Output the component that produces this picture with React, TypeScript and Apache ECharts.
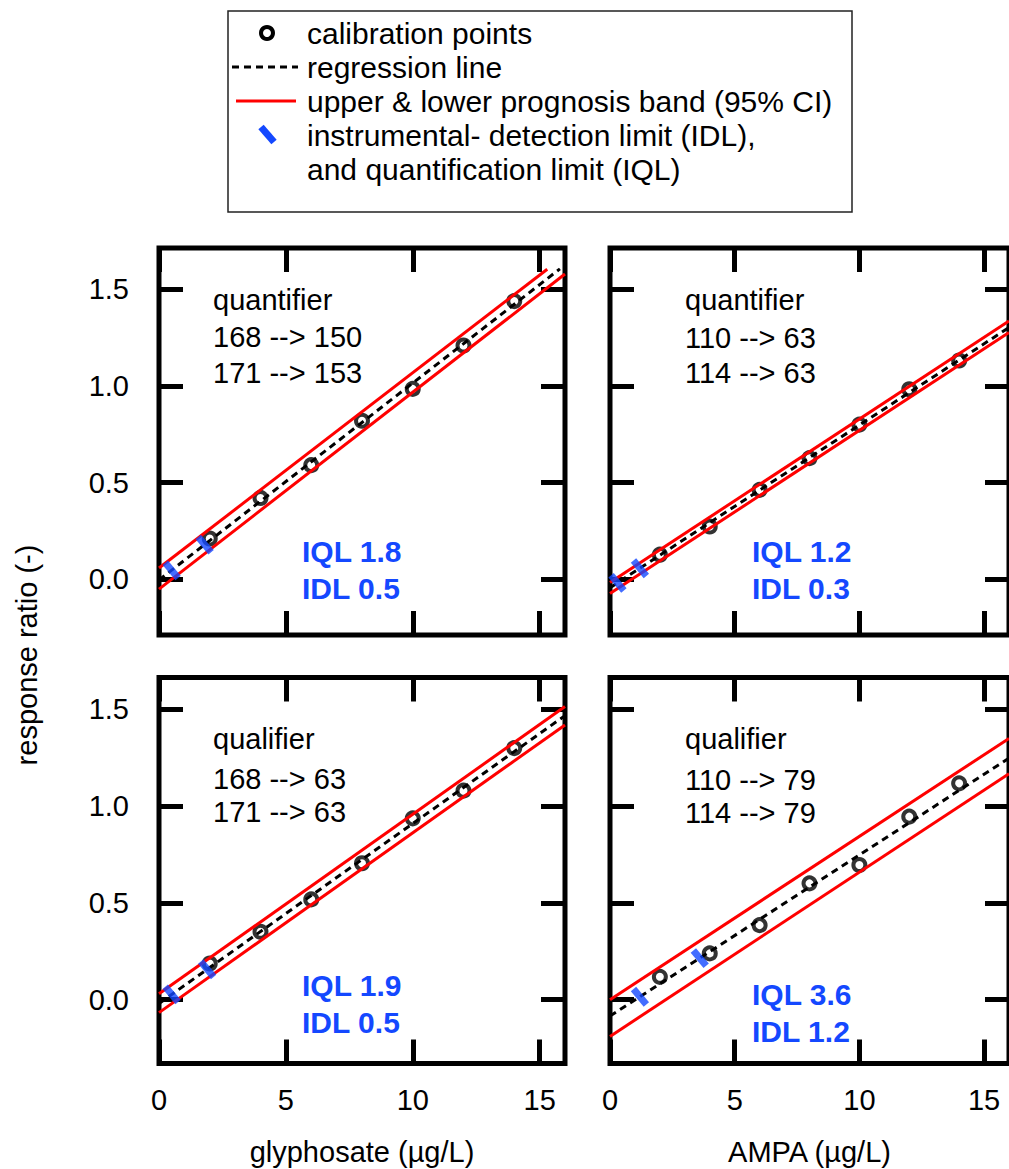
import React, { useEffect, useRef } from 'react';
import * as echarts from 'echarts';

// ---------------- data ----------------
const concentrations = [2, 4, 6, 8, 10, 12, 14];

const glyQuantPoints = [0.21, 0.42, 0.59, 0.82, 0.985, 1.21, 1.44];
const ampaQuantPoints = [0.126, 0.272, 0.462, 0.626, 0.8, 0.983, 1.132];
const glyQualPoints = [0.187, 0.351, 0.518, 0.705, 0.937, 1.08, 1.3];
const ampaQualPoints = [0.118, 0.239, 0.385, 0.601, 0.696, 0.946, 1.118];

// regression line and prognosis band end points [x, y]
const glyQuantReg = [[0, -0.005], [15.8, 1.607]];
const glyQuantUpper = [[0, 0.057], [15.3, 1.605]];
const glyQuantLower = [[0, -0.052], [16, 1.58]];

const ampaQuantReg = [[0, -0.045], [16, 1.303]];
const ampaQuantUpper = [[0, -0.018], [16, 1.337]];
const ampaQuantLower = [[0, -0.075], [16, 1.277]];

const glyQualReg = [[0, -0.02], [16, 1.468]];
const glyQualUpper = [[0, 0.03], [16, 1.515]];
const glyQualLower = [[0, -0.067], [16, 1.42]];

const ampaQualReg = [[0, -0.085], [16, 1.248]];
const ampaQualUpper = [[0, 0.0], [16, 1.35]];
const ampaQualLower = [[0, -0.19], [16, 1.168]];

// IDL / IQL marks on the regression line [x, y]
const glyQuantLimits = [[0.5, 0.045], [1.8, 0.178]];
const ampaQuantLimits = [[0.3, -0.02], [1.2, 0.056]];
const glyQualLimits = [[0.5, 0.027], [1.9, 0.157]];
const ampaQualLimits = [[1.2, 0.015], [3.6, 0.215]];

const xTicks = [0, 5, 10, 15];
const yTicks = [0, 0.5, 1.0, 1.5];

const legendLabels = [
  'calibration points',
  'regression line',
  'upper & lower prognosis band (95% CI)',
  'instrumental- detection limit (IDL),',
  'and quantification limit (IQL)',
];

const panelTitles = [
  ['quantifier', '168 --> 150', '171 --> 153'],
  ['quantifier', '110 --> 63', '114 --> 63'],
  ['qualifier', '168 --> 63', '171 --> 63'],
  ['qualifier', '110 --> 79', '114 --> 79'],
];
const panelLimitTexts = [
  ['IQL 1.8', 'IDL 0.5'],
  ['IQL 1.2', 'IDL 0.3'],
  ['IQL 1.9', 'IDL 0.5'],
  ['IQL 3.6', 'IDL 1.2'],
];
const xAxisNames = ['glyphosate (µg/L)', 'AMPA (µg/L)'];
const yAxisName = 'response ratio (-)';

// ---------------- styling / layout ----------------
const FONT = '"Liberation Sans", Arial, Helvetica, sans-serif';
const BLUE = '#1448ff';
const RED = '#ff0000';

const panels = [
  {
    grid: { left: 159, top: 248, width: 406, height: 387 },
    yMin: -0.29, yMax: 1.715,
    points: glyQuantPoints, reg: glyQuantReg, upper: glyQuantUpper, lower: glyQuantLower, limits: glyQuantLimits,
    showX: false, showY: true, xName: '',
    titleX: 213, titleY: [300, 337, 373], limX: 302, limY: [551, 588],
  },
  {
    grid: { left: 610, top: 248, width: 406, height: 387 },
    yMin: -0.29, yMax: 1.715,
    points: ampaQuantPoints, reg: ampaQuantReg, upper: ampaQuantUpper, lower: ampaQuantLower, limits: ampaQuantLimits,
    showX: false, showY: false, xName: '',
    titleX: 685, titleY: [300, 338, 373], limX: 752, limY: [551, 588],
  },
  {
    grid: { left: 159, top: 677.5, width: 406, height: 386 },
    yMin: -0.33, yMax: 1.665,
    points: glyQualPoints, reg: glyQualReg, upper: glyQualUpper, lower: glyQualLower, limits: glyQualLimits,
    showX: true, showY: true, xName: xAxisNames[0],
    titleX: 213, titleY: [739, 779, 812], limX: 302, limY: [985, 1022],
  },
  {
    grid: { left: 610, top: 677.5, width: 406, height: 386 },
    yMin: -0.33, yMax: 1.665,
    points: ampaQualPoints, reg: ampaQualReg, upper: ampaQualUpper, lower: ampaQualLower, limits: ampaQualLimits,
    showX: true, showY: false, xName: xAxisNames[1],
    titleX: 685, titleY: [739, 780, 813], limX: 752, limY: [994, 1031],
  },
];

function buildOption() {
  const grid: any[] = [];
  const xAxis: any[] = [];
  const yAxis: any[] = [];
  const series: any[] = [];
  const graphic: any[] = [];

  const tickStyle = { inside: true, length: 24, lineStyle: { width: 5, color: '#000' } };

  panels.forEach((p, i) => {
    grid.push({
      ...p.grid,
      show: true,
      borderColor: '#000',
      borderWidth: 5,
      backgroundColor: 'rgba(0,0,0,0)',
    });
    const xBase = {
      type: 'value', gridIndex: i, min: 0, max: 16,
      axisLine: { show: false, onZero: false },
      splitLine: { show: false },
    };
    xAxis.push({
      ...xBase,
      position: 'bottom',
      axisTick: { ...tickStyle, customValues: xTicks },
      axisLabel: {
        show: p.showX, customValues: xTicks, margin: 22,
        fontSize: 29, color: '#000', fontFamily: FONT,
      },
      name: p.xName,
      nameLocation: 'middle',
      nameGap: 74,
      nameTextStyle: { fontSize: 29, color: '#000', fontFamily: FONT },
    });
    xAxis.push({
      ...xBase,
      position: 'top',
      axisTick: { ...tickStyle, customValues: xTicks },
      axisLabel: { show: false, customValues: xTicks },
    });
    const yBase = {
      type: 'value', gridIndex: i, min: p.yMin, max: p.yMax,
      axisLine: { show: false, onZero: false },
      splitLine: { show: false },
    };
    yAxis.push({
      ...yBase,
      position: 'left',
      axisTick: { ...tickStyle, customValues: yTicks },
      axisLabel: {
        show: p.showY, customValues: yTicks, margin: 30,
        fontSize: 29, color: '#000', fontFamily: FONT,
        formatter: (v: number) => v.toFixed(1),
      },
    });
    yAxis.push({
      ...yBase,
      position: 'right',
      axisTick: { ...tickStyle, customValues: yTicks },
      axisLabel: { show: false, customValues: yTicks },
    });

    const ax = { xAxisIndex: 2 * i, yAxisIndex: 2 * i };
    series.push({
      type: 'scatter', ...ax, z: 2,
      data: concentrations.map((c, k) => [c, p.points[k]]),
      symbol: 'circle', symbolSize: 12,
      itemStyle: { color: 'rgba(0,0,0,0)', borderColor: '#000', borderWidth: 4 },
    });
    [p.upper, p.lower].forEach((d) => {
      series.push({
        type: 'line', ...ax, z: 3, data: d, showSymbol: false, symbol: 'none',
        lineStyle: { color: RED, width: 3 },
      });
    });
    series.push({
      type: 'line', ...ax, z: 4, data: p.reg, showSymbol: false, symbol: 'none',
      lineStyle: { color: '#000', width: 3, type: [7, 5] },
    });
    series.push({
      type: 'scatter', ...ax, z: 5, data: p.limits,
      symbol: 'rect', symbolSize: [7, 20], symbolRotate: 40,
      itemStyle: { color: BLUE },
    });

    panelTitles[i].forEach((t, k) => {
      graphic.push({
        type: 'text', z: 10,
        style: {
          text: t, x: p.titleX, y: p.titleY[k], fill: '#000',
          fontSize: 29, fontFamily: FONT,
          align: 'left', verticalAlign: 'middle', textAlign: 'left', textVerticalAlign: 'middle',
        },
      });
    });
    panelLimitTexts[i].forEach((t, k) => {
      graphic.push({
        type: 'text', z: 10,
        style: {
          text: t, x: p.limX, y: p.limY[k], fill: BLUE,
          fontSize: 30, fontWeight: 'bold', fontFamily: FONT,
          align: 'left', verticalAlign: 'middle', textAlign: 'left', textVerticalAlign: 'middle',
        },
      });
    });
  });

  // y axis name (shared)
  graphic.push({
    type: 'text', z: 10, x: 27, y: 655, rotation: Math.PI / 2,
    style: {
      text: yAxisName, x: 0, y: 0, fill: '#000', fontSize: 29, fontFamily: FONT,
      align: 'center', verticalAlign: 'middle', textAlign: 'center', textVerticalAlign: 'middle',
    },
  });

  // legend box
  const rowY = [33, 67, 101, 135, 169];
  graphic.push({
    type: 'rect', z: 10,
    shape: { x: 228, y: 11, width: 624, height: 201 },
    style: { fill: '#fff', stroke: '#222', lineWidth: 1.5 },
  });
  graphic.push({
    type: 'circle', z: 11,
    shape: { cx: 267, cy: rowY[0], r: 6 },
    style: { fill: 'rgba(0,0,0,0)', stroke: '#000', lineWidth: 4 },
  });
  graphic.push({
    type: 'line', z: 11,
    shape: { x1: 232, y1: rowY[1], x2: 298, y2: rowY[1] },
    style: { stroke: '#000', lineWidth: 3, lineDash: [7, 5] },
  });
  graphic.push({
    type: 'line', z: 11,
    shape: { x1: 236, y1: rowY[2], x2: 296, y2: rowY[2] },
    style: { stroke: RED, lineWidth: 3 },
  });
  graphic.push({
    type: 'line', z: 11,
    shape: { x1: 261, y1: rowY[3] - 8, x2: 274, y2: rowY[3] + 7 },
    style: { stroke: BLUE, lineWidth: 7 },
  });
  legendLabels.forEach((t, k) => {
    graphic.push({
      type: 'text', z: 11,
      style: {
        text: t, x: 307, y: rowY[k], fill: '#000', fontSize: 30, fontFamily: FONT,
        align: 'left', verticalAlign: 'middle', textAlign: 'left', textVerticalAlign: 'middle',
      },
    });
  });

  return {
    animation: false,
    backgroundColor: '#fff',
    grid, xAxis, yAxis, series, graphic,
  };
}

export default function App() {
  const ref = useRef<HTMLDivElement>(null);
  useEffect(() => {
    if (!ref.current) return;
    const chart = echarts.init(ref.current, undefined, { renderer: 'svg' });
    chart.setOption(buildOption() as any);
    return () => chart.dispose();
  }, []);
  return (
    <div
      ref={ref}
      style={{ position: 'absolute', left: 0, top: 0, width: 1009, height: 1169, background: '#fff' }}
    />
  );
}
